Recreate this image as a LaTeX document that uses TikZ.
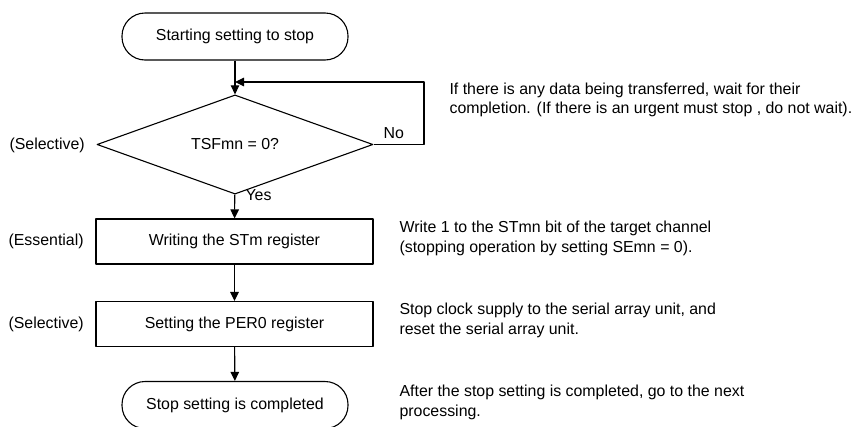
\documentclass[tikz,border=0pt]{standalone}
\usepackage{fontspec}
\setmainfont{Liberation Sans}
\usetikzlibrary{shapes.geometric,arrows.meta}

\begin{document}
\begin{tikzpicture}[x=1pt, y=-1pt, line width=1.1pt, line join=round,
    >={Triangle[length=9pt,width=8.5pt]},
    font=\fontsize{15.9}{19.5}\selectfont,
    term/.style={draw, rounded corners=23pt, minimum width=226pt, minimum height=47pt, inner sep=0pt},
    proc/.style={draw, minimum width=277pt, minimum height=45pt, inner sep=0pt},
    decide/.style={draw, diamond, minimum width=276pt, minimum height=75pt, inner sep=0pt},
    note/.style={anchor=west, align=left, inner sep=0pt},
    tag/.style={anchor=west, inner sep=0pt}]
    \useasboundingbox (0,0) rectangle (853,426);

    % flow boxes
    \node[term]   (start) at (235,36.5) {Starting setting to stop};
    \node[decide] (test)  at (235,144.5) {TSFmn = 0?};
    \node[proc]   (wstm)  at (234.5,241.5) {Writing the STm register};
    \node[proc]   (sper)  at (234.5,324) {Setting the PER0 register};
    \node[term]   (done)  at (235,405) {Stop setting is completed};

    % loop back points
    \coordinate (join) at (235,82);
    \coordinate (loopr) at (424,82);

    % connectors
    \draw[->] (start) -- (test);
    \draw[->] (test.east) -| (loopr) -- (join);
    \draw[->] (test) -- (wstm);
    \draw[->] (wstm) -- (sper);
    \draw[->] (sper) -- (done);

    \node[anchor=west, inner sep=0pt] (no) at (383,133) {No};
    \node[anchor=west, inner sep=0pt] (yes) at (245,195) {Yes};

    % left tags
    \node[tag] (t1) at (9,145) {(Selective)};
    \node[tag] (t2) at (8,241) {(Essential)};
    \node[tag] (t3) at (8,324) {(Selective)};

    % right notes
    \node[note] (n1) at (449,100) {If there is any data being transferred, wait for their\\completion. (If there is an urgent must stop , do not wait).};
    \node[note] (n2) at (399,238.5) {Write 1 to the STmn bit of the target channel\\(stopping operation by setting SEmn = 0).};
    \node[note] (n3) at (399,320.5) {Stop clock supply to the serial array unit, and\\reset the serial array unit.};
    \node[note] (n4) at (399,402.5) {After the stop setting is completed, go to the next\\processing.};
\end{tikzpicture}
\end{document}
